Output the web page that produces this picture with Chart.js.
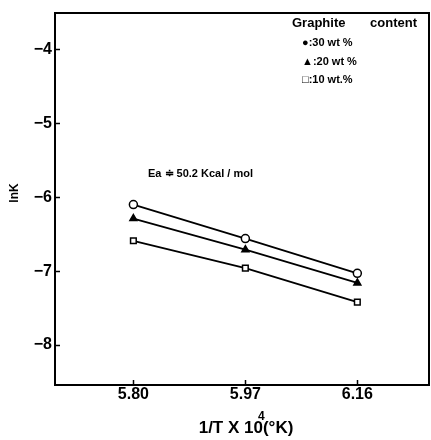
<!DOCTYPE html>
<html>
<head>
<meta charset="utf-8">
<script src="https://cdn.jsdelivr.net/npm/chart.js@4.4.1/dist/chart.umd.min.js"></script>
<style>
  html, body { margin: 0; padding: 0; background: #fff; overflow: hidden; }
  #wrap { width: 431px; height: 440px; }
  canvas { display: block; }
</style>
</head>
<body>
<div id="wrap"><canvas id="lnkChart"></canvas></div>
<script>
// 1/T x 10^4 categories, drawn evenly spaced as in the figure
var xLabels = ["5.80", "5.97", "6.16"];
var xIndex = [0, 1, 2];
var yTicks = [-4, -5, -6, -7, -8];

// ln K for each graphite content
var lnK30 = [-6.10, -6.56, -7.03];
var lnK20 = [-6.29, -6.71, -7.16];
var lnK10 = [-6.59, -6.96, -7.42];

var legendTitle = ["Graphite", "content"];
var legendRows = ["\u25CF:30 wt %", "\u25B2:20 wt %", "\u25A1:10 wt.%"];
var noteText = "Ea \u2251 50.2 Kcal / mol";

var FONT = "'Liberation Sans', Arial, sans-serif";

function pts(vals) {
  return vals.map(function (v, i) { return { x: xIndex[i], y: v }; });
}

var framePlugin = {
  id: "frame",
  afterDraw: function (chart) {
    var ctx = chart.ctx, a = chart.chartArea;
    ctx.save();
    ctx.strokeStyle = "#000";
    ctx.lineWidth = 2;
    ctx.strokeRect(a.left, a.top, a.right - a.left, a.bottom - a.top);

    ctx.fillStyle = "#000";
    // legend block
    ctx.textBaseline = "middle";
    ctx.font = "bold 13px " + FONT;
    ctx.textAlign = "left";
    ctx.fillText(legendTitle[0], 292, 23);
    ctx.textAlign = "right";
    ctx.fillText(legendTitle[1], 417, 23);
    ctx.font = "bold 11px " + FONT;
    ctx.textAlign = "left";
    ctx.fillText(legendRows[0], 302, 43);
    ctx.fillText(legendRows[1], 302, 62);
    ctx.fillText(legendRows[2], 302, 80);

    // activation energy note
    ctx.font = "bold 11px " + FONT;
    ctx.fillText(noteText, 148, 174);

    // y title
    ctx.save();
    ctx.translate(15, 193);
    ctx.rotate(-Math.PI / 2);
    ctx.textAlign = "center";
    ctx.font = "bold 12px " + FONT;
    ctx.fillText("lnK", 0, 0);
    ctx.restore();

    // x title with superscript
    ctx.font = "bold 17px " + FONT;
    var head = "1/T X 10", tail = "(\u00B0K)";
    var w1 = ctx.measureText(head).width, w2 = ctx.measureText(tail).width;
    var x0 = 246 - (w1 + w2) / 2;
    ctx.textAlign = "left";
    ctx.fillText(head, x0, 428);
    ctx.fillText(tail, x0 + w1, 428);
    ctx.font = "bold 12px " + FONT;
    ctx.fillText("4", x0 + w1 - 5, 417);
    ctx.restore();
  }
};

function lineSet(label, vals, style, fill) {
  return {
    label: label,
    data: pts(vals),
    borderColor: "#000",
    borderWidth: 1.8,
    pointStyle: style,
    pointRadius: 4,
    pointBorderWidth: 1.5,
    pointBorderColor: "#000",
    pointBackgroundColor: fill,
    tension: 0,
    fill: false
  };
}

new Chart("lnkChart", {
  type: "line",
  data: {
    datasets: [
      lineSet("30 wt %", lnK30, "circle", "#fff"),
      lineSet("20 wt %", lnK20, "triangle", "#000"),
      lineSet("10 wt.%", lnK10, "rect", "#fff")
    ]
  },
  options: {
    responsive: true,
    maintainAspectRatio: false,
    animation: false,
    layout: { autoPadding: false, padding: { top: 13, right: 2, left: 0, bottom: 0 } },
    plugins: {
      legend: { display: false },
      tooltip: { enabled: false }
    },
    scales: {
      x: {
        type: "linear",
        min: -0.70,
        max: 2.64,
        afterBuildTicks: function (s) { s.ticks = xIndex.map(function (v) { return { value: v }; }); },
        afterFit: function (s) {
          s.height = 55;
          s.paddingLeft = 0; s.paddingRight = 0; s.paddingTop = 0; s.paddingBottom = 0;
        },
        border: { display: false },
        grid: { drawOnChartArea: false, drawTicks: true, tickLength: -5, tickWidth: 1.5, color: "#000" },
        ticks: {
          padding: 5,
          color: "#000",
          maxRotation: 0,
          font: { family: FONT, size: 16, weight: "bold" },
          callback: function (v) { return xLabels[v]; }
        }
      },
      y: {
        type: "linear",
        min: -8.54,
        max: -3.51,
        afterBuildTicks: function (s) { s.ticks = yTicks.map(function (v) { return { value: v }; }); },
        afterFit: function (s) {
          s.width = 55;
          s.paddingLeft = 0; s.paddingRight = 0; s.paddingTop = 0; s.paddingBottom = 0;
        },
        border: { display: false },
        grid: { drawOnChartArea: false, drawTicks: true, tickLength: -5, tickWidth: 1.5, color: "#000" },
        ticks: {
          padding: 8,
          color: "#000",
          font: { family: FONT, size: 16, weight: "bold" },
          callback: function (v) { return "\u2212" + Math.abs(v); }
        }
      }
    }
  },
  plugins: [framePlugin]
});
</script>
</body>
</html>
